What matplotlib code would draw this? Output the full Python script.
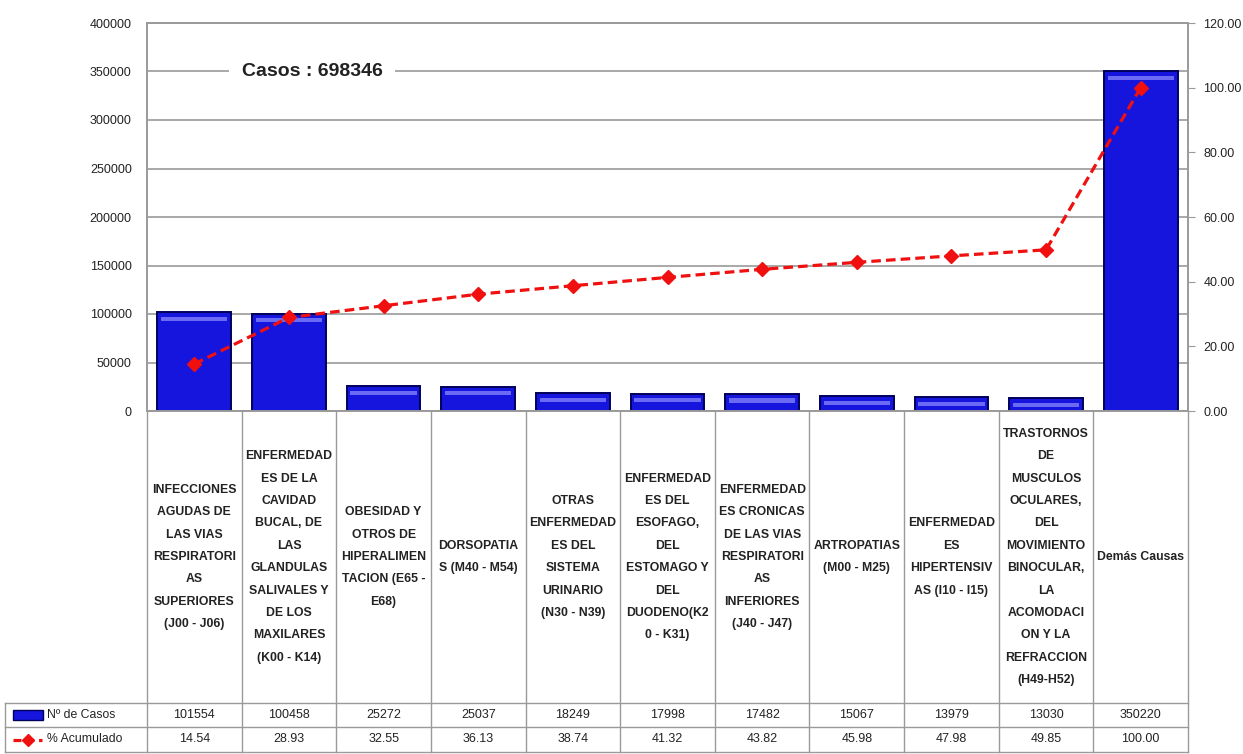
import numpy as np
import matplotlib.pyplot as plt
from matplotlib.transforms import blended_transform_factory
from matplotlib.lines import Line2D
from matplotlib.patches import Rectangle

plt.rcParams['font.family'] = ['Liberation Sans', 'DejaVu Sans']

categorias = [
    "INFECCIONES\nAGUDAS DE\nLAS VIAS\nRESPIRATORI\nAS\nSUPERIORES\n(J00 - J06)",
    "ENFERMEDAD\nES DE LA\nCAVIDAD\nBUCAL, DE\nLAS\nGLANDULAS\nSALIVALES Y\nDE LOS\nMAXILARES\n(K00 - K14)",
    "OBESIDAD Y\nOTROS DE\nHIPERALIMEN\nTACION (E65 -\nE68)",
    "DORSOPATIA\nS (M40 - M54)",
    "OTRAS\nENFERMEDAD\nES DEL\nSISTEMA\nURINARIO\n(N30 - N39)",
    "ENFERMEDAD\nES DEL\nESOFAGO,\nDEL\nESTOMAGO Y\nDEL\nDUODENO(K2\n0 - K31)",
    "ENFERMEDAD\nES CRONICAS\nDE LAS VIAS\nRESPIRATORI\nAS\nINFERIORES\n(J40 - J47)",
    "ARTROPATIAS\n(M00 - M25)",
    "ENFERMEDAD\nES\nHIPERTENSIV\nAS (I10 - I15)",
    "TRASTORNOS\nDE\nMUSCULOS\nOCULARES,\nDEL\nMOVIMIENTO\nBINOCULAR,\nLA\nACOMODACI\nON Y LA\nREFRACCION\n(H49-H52)",
    "Demás Causas",
]
casos = [101554, 100458, 25272, 25037, 18249, 17998, 17482, 15067, 13979, 13030, 350220]
acumulado = [14.54, 28.93, 32.55, 36.13, 38.74, 41.32, 43.82, 45.98, 47.98, 49.85, 100.00]
total_casos = 698346

azul = '#1515DE'
borde = '#00005A'
rojo = '#F01010'
gris = '#9A9A9A'
texto = '#222222'

fig = plt.figure(figsize=(12.43, 7.54), dpi=100)
ax = fig.add_axes([147/1243, 1 - 411/754, (1188 - 147)/1243, 388/754])
x = np.arange(len(casos))
ymax = 400000

ax.bar(x, casos, width=0.78, color=azul, edgecolor=borde, linewidth=1.4, zorder=2)
# brillo claro cerca del borde superior de cada barra
ax.bar(x, [ymax * 0.011] * len(casos), bottom=np.array(casos) - ymax * 0.022,
       width=0.70, color='#6A6AF5', linewidth=0, zorder=3)

ax.set_xlim(-0.5, len(casos) - 0.5)
ax.set_ylim(0, ymax)
ax.set_yticks(np.arange(0, ymax + 1, 50000))
ax.yaxis.grid(True, color=gris, linewidth=1.2)
ax.set_axisbelow(True)
ax.tick_params(axis='y', length=0, labelsize=9, pad=11, labelcolor=texto)
ax.set_xticks([])
for s in ax.spines.values():
    s.set_color(gris)
    s.set_linewidth(1.2)

ax2 = ax.twinx()
ax2.plot(x, acumulado, color=rojo, linestyle=(0, (3, 1.6)), linewidth=2.3,
         marker='D', markersize=7, markerfacecolor=rojo, markeredgecolor=rojo, zorder=5)
ax2.set_ylim(0, 120)
ax2.set_yticks(np.arange(0, 121, 20))
ax2.set_yticklabels([f'{v:.2f}' for v in np.arange(0, 121, 20)])
ax2.tick_params(axis='y', length=5, color=gris, labelsize=9, pad=6, labelcolor=texto)
for s in ax2.spines.values():
    s.set_color(gris)
    s.set_linewidth(1.2)

fig.text(312/1243, 1 - 72/754, f'Casos : {total_casos}', fontsize=14, fontweight='bold',
         ha='center', va='center', zorder=6, color=texto,
         bbox=dict(facecolor='white', edgecolor='none', pad=9))

# tabla de datos debajo del grafico
tr = blended_transform_factory(ax.transData, fig.transFigure)
y_top = 1 - 411/754
y_r1 = 1 - 703/754
y_r2 = 1 - 727/754
y_bot = 1 - 752/754
x_left = 5/1243

for b in np.arange(-0.5, len(casos), 1.0):
    fig.add_artist(Line2D([b, b], [y_top, y_bot], transform=tr, color=gris, linewidth=1))
for yy in (y_r1, y_r2, y_bot):
    fig.add_artist(Line2D([x_left, 1188/1243], [yy, yy], transform=fig.transFigure,
                          color=gris, linewidth=1))
fig.add_artist(Line2D([x_left, x_left], [y_r1, y_bot], transform=fig.transFigure,
                      color=gris, linewidth=1))

for i, lab in enumerate(categorias):
    fig.text(i, (y_top + y_r1) / 2, lab, transform=tr, ha='center', va='center',
             fontsize=8.8, fontweight='bold', linespacing=2.15, color=texto)
    fig.text(i, (y_r1 + y_r2) / 2, f'{casos[i]}', transform=tr, ha='center', va='center',
             fontsize=9, color=texto)
    fig.text(i, (y_r2 + y_bot) / 2, f'{acumulado[i]:.2f}', transform=tr, ha='center',
             va='center', fontsize=9, color=texto)

# leyenda dentro de la tabla
fig.add_artist(Rectangle((13/1243, (y_r1 + y_r2) / 2 - 0.006), 30/1243, 0.012,
                         transform=fig.transFigure, facecolor=azul, edgecolor=borde, linewidth=1))
fig.text(47/1243, (y_r1 + y_r2) / 2, 'Nº de Casos', ha='left', va='center',
         fontsize=8.8, color=texto)
fig.add_artist(Line2D([13/1243, 42/1243], [(y_r2 + y_bot) / 2] * 2, transform=fig.transFigure,
                      color=rojo, linestyle=(0, (2.5, 1.5)), linewidth=2.3))
fig.add_artist(Line2D([27.5/1243], [(y_r2 + y_bot) / 2], transform=fig.transFigure,
                      color=rojo, marker='D', markersize=6, linestyle='none'))
fig.text(47/1243, (y_r2 + y_bot) / 2, '% Acumulado', ha='left', va='center',
         fontsize=8.8, color=texto)

fig.savefig('out.png', dpi=100)
